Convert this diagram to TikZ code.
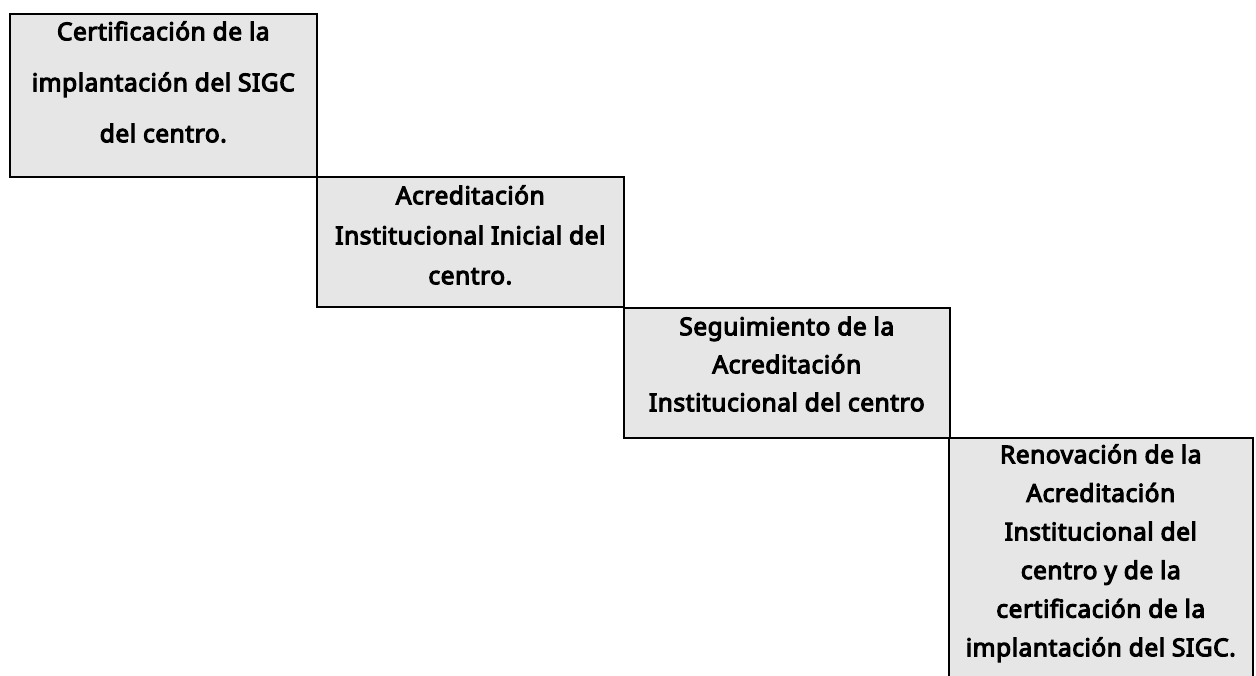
\documentclass[tikz,border=0pt]{standalone}
\usepackage{fontspec}
\setmainfont{Noto Sans}
\newfontfamily\stagefont{Noto Sans}[FakeBold=4.5, LetterSpace=2.2]
\definecolor{boxfill}{RGB}{230,230,230}
\tikzset{
  x=1pt, y=-1pt,
  stagebox/.style={draw=black, line width=1.6pt, fill=boxfill, anchor=north west, inner sep=0pt},
  stagetext/.style={anchor=north, inner sep=0pt, align=center, font=\stagefont\fontsize{24.5}{#1}\selectfont},
}
\newcommand{\firststrut}{\rule{0pt}{25pt}}
\begin{document}
\begin{tikzpicture}
\useasboundingbox (0,0) rectangle (1256,675);
\clip (0,0) rectangle (1256,675);
\node[stagebox, minimum width=307pt, minimum height=163pt] (b1) at (9,13) {};
\node[stagebox, minimum width=307pt, minimum height=130pt] (b2) at (316,176) {};
\node[stagebox, minimum width=326pt, minimum height=130pt] (b3) at (623,307) {};
\node[stagebox, minimum width=304pt, minimum height=260pt] (b4) at (948,437) {};
\node[stagetext=51] (t1) at ([yshift=-2pt]b1.north) {\firststrut Certificación de la\\implantación del SIGC\\del centro.};
\node[stagetext=40] (t2) at ([yshift=-3pt]b2.north) {\firststrut Acreditación\\Institucional Inicial del\\centro.};
\node[stagetext=38] (t3) at ([yshift=-3pt]b3.north) {\firststrut Seguimiento de la\\Acreditación\\Institucional del centro};
\node[stagetext=38.6] (t4) at ([yshift=-1pt]b4.north) {\firststrut Renovación de la\\Acreditación\\Institucional del\\centro y de la\\certificación de la\\implantación del SIGC.};
\end{tikzpicture}
\end{document}
